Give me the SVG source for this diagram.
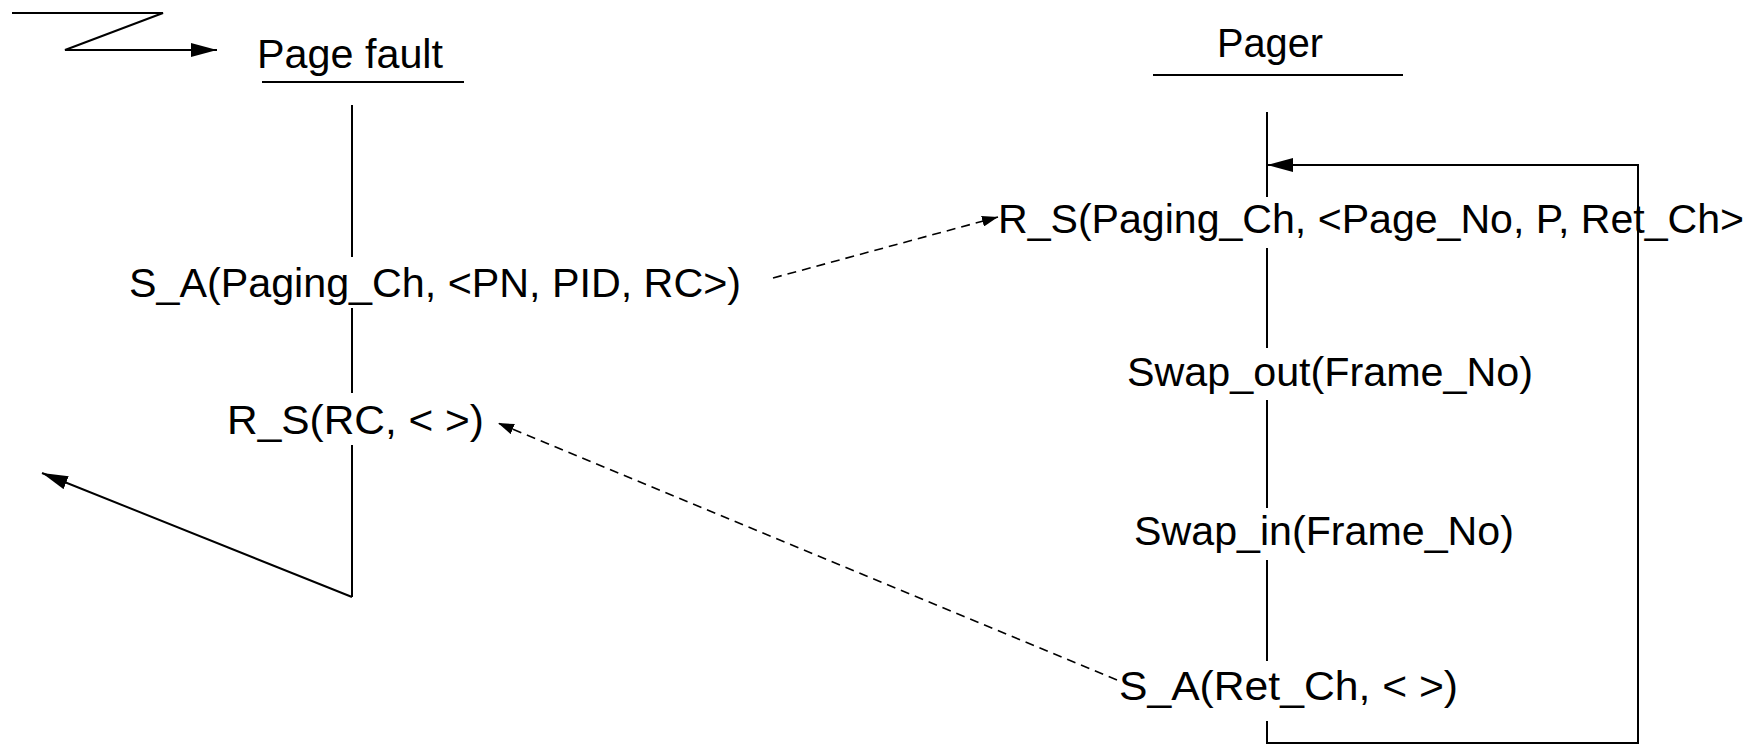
<svg xmlns="http://www.w3.org/2000/svg" width="1758" height="746" viewBox="0 0 1758 746">
<style>
text{font-family:"Liberation Sans",Arial,sans-serif;font-size:40px;fill:#000}
.s{stroke:#000;stroke-width:2;fill:none}
.d{stroke:#000;stroke-width:1.6;fill:none;stroke-dasharray:9 6}
</style>
<defs>
<marker id="ah" viewBox="0 0 26 14" refX="26" refY="7" markerWidth="26" markerHeight="14" markerUnits="userSpaceOnUse" orient="auto"><path d="M0,0 L26,7 L0,14 Z" fill="#000"/></marker>
<marker id="as" viewBox="0 0 16 11" refX="16" refY="5.5" markerWidth="16" markerHeight="11" markerUnits="userSpaceOnUse" orient="auto"><path d="M0,0 L16,5.5 L0,11 Z" fill="#000"/></marker>
</defs>
<rect width="1758" height="746" fill="#fff"/>
<g id="pagefault">
<text x="257" y="68" textLength="186" lengthAdjust="spacingAndGlyphs">Page fault</text>
<line class="s" x1="262" y1="82" x2="464" y2="82"/>
<line class="s" x1="352" y1="105" x2="352" y2="257"/>
<text x="129" y="297" textLength="612" lengthAdjust="spacingAndGlyphs">S_A(Paging_Ch, &lt;PN, PID, RC&gt;)</text>
<line class="s" x1="352" y1="308" x2="352" y2="393"/>
<text x="227" y="434" textLength="257" lengthAdjust="spacingAndGlyphs">R_S(RC, &lt; &gt;)</text>
<line class="s" x1="352" y1="445" x2="352" y2="597"/>
</g>
<g id="pager">
<text x="1217" y="57" textLength="106" lengthAdjust="spacingAndGlyphs">Pager</text>
<line class="s" x1="1153" y1="75" x2="1403" y2="75"/>
<line class="s" x1="1267" y1="112" x2="1267" y2="197"/>
<text x="998" y="233" textLength="746" lengthAdjust="spacingAndGlyphs">R_S(Paging_Ch, &lt;Page_No, P, Ret_Ch&gt;</text>
<line class="s" x1="1267" y1="248" x2="1267" y2="348"/>
<text x="1127" y="386" textLength="406" lengthAdjust="spacingAndGlyphs">Swap_out(Frame_No)</text>
<line class="s" x1="1267" y1="400" x2="1267" y2="508"/>
<text x="1134" y="545" textLength="380" lengthAdjust="spacingAndGlyphs">Swap_in(Frame_No)</text>
<line class="s" x1="1267" y1="560" x2="1267" y2="661"/>
<text x="1119" y="700" textLength="339" lengthAdjust="spacingAndGlyphs">S_A(Ret_Ch, &lt; &gt;)</text>
<path class="s" d="M1267,721 L1267,743 L1638,743 L1638,165 L1267,165" marker-end="url(#ah)"/>
</g>
<g id="connectors">
<path class="s" d="M12,13 L163,13 L65,50 L217,50" marker-end="url(#ah)"/>
<path class="s" d="M352,597 L42,473" marker-end="url(#ah)"/>
<line class="d" x1="773" y1="278" x2="998" y2="217" marker-end="url(#as)"/>
<line class="d" x1="1117" y1="680" x2="498" y2="423" marker-end="url(#as)"/>
</g>
</svg>
